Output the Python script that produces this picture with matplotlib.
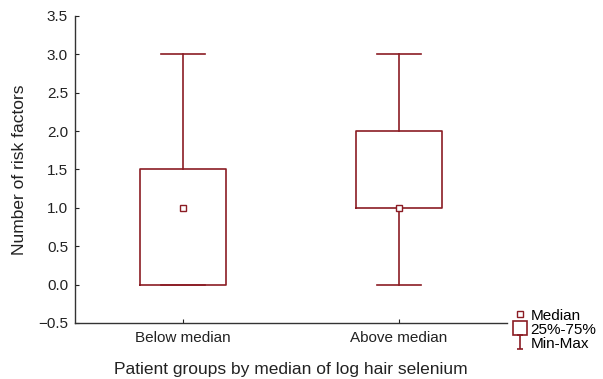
import matplotlib
matplotlib.use("Agg")
import matplotlib.pyplot as plt
from matplotlib.lines import Line2D
from matplotlib.path import Path

plt.rcParams['font.family'] = ['Liberation Sans', 'DejaVu Sans']

categories = ["Below median", "Above median"]
mins = [0.0, 0.0]
q1s = [0.0, 1.0]
medians = [1.0, 1.0]
q3s = [1.5, 2.0]
maxs = [3.0, 3.0]
yticks = [-0.5, 0.0, 0.5, 1.0, 1.5, 2.0, 2.5, 3.0, 3.5]

color = "#8b1c24"
txt = '#222222'

fig = plt.figure(figsize=(6.03, 3.79), dpi=100)
ax = fig.add_axes([0.1244, 0.1478, 0.7164, 0.81])

stats = []
for c, lo, a, m, b, hi in zip(categories, mins, q1s, medians, q3s, maxs):
    stats.append(dict(label=c, whislo=lo, q1=a, med=m, q3=b, whishi=hi, fliers=[]))

positions = list(range(len(categories)))
ax.bxp(stats, positions=positions, widths=0.4, showfliers=False,
       boxprops=dict(color=color, linewidth=1.2),
       whiskerprops=dict(color=color, linewidth=1.2),
       capprops=dict(color=color, linewidth=1.2),
       medianprops=dict(linewidth=0),
       capwidths=0.2)
ax.plot(positions, medians, linestyle='none', marker='s', markersize=4.5,
        markerfacecolor='white', markeredgecolor=color, markeredgewidth=1.0, zorder=5)

ax.set_xlim(-0.5, 1.5)
ax.set_ylim(-0.5, 3.5)
ax.set_yticks(yticks)
ax.set_yticklabels([f"{v:.1f}".replace("-", "\u2212") for v in yticks])
ax.set_xticks(positions)
ax.set_xticklabels(categories)
for s in ['top', 'right']:
    ax.spines[s].set_visible(False)
for s in ['left', 'bottom']:
    ax.spines[s].set_color('#333333')
    ax.spines[s].set_linewidth(1.0)
ax.tick_params(axis='y', direction='in', length=3, labelsize=11, colors=txt, pad=5)
ax.tick_params(axis='x', direction='in', length=3, labelsize=11, colors=txt, pad=6)
ax.set_ylabel("Number of risk factors", fontsize=12.5, color=txt, labelpad=8)
ax.set_xlabel("Patient groups by median of log hair selenium", fontsize=12.5, color=txt, labelpad=12)

ibeam = Path([(-0.5, 1), (0.5, 1), (0, 1), (0, -1), (-0.5, -1), (0.5, -1)],
             [Path.MOVETO, Path.LINETO, Path.MOVETO, Path.LINETO, Path.MOVETO, Path.LINETO])
handles = [
    Line2D([], [], linestyle='none', marker='s', markersize=5, markerfacecolor='white',
           markeredgecolor=color, markeredgewidth=1.0),
    Line2D([], [], linestyle='none', marker='s', markersize=10, markerfacecolor='white',
           markeredgecolor=color, markeredgewidth=1.2),
    Line2D([], [], linestyle='none', marker=ibeam, markersize=10, markerfacecolor='none',
           markeredgecolor=color, markeredgewidth=1.2),
]
fig.legend(handles, ["Median", "25%-75%", "Min-Max"], loc='upper left',
           bbox_to_anchor=(0.838, 0.206), frameon=False, fontsize=11,
           handlelength=0.9, handletextpad=0.25, labelspacing=0.0, borderpad=0)

fig.savefig("out.png", dpi=100)
